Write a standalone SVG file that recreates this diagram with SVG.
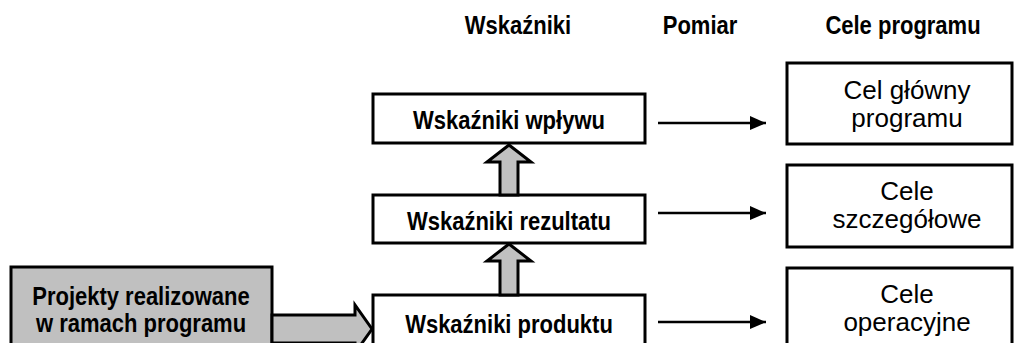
<svg xmlns="http://www.w3.org/2000/svg" width="1015" height="343" viewBox="0 0 1015 343">
  <defs>
    <style>
      .box { fill: #ffffff; stroke: #000000; stroke-width: 3; }
      .gbox { fill: #c0c0c0; stroke: #000000; stroke-width: 3; }
      .fat { fill: #c0c0c0; stroke: #000000; stroke-width: 3; stroke-linejoin: miter; }
      .thin { stroke: #000000; stroke-width: 2.7; fill: none; }
      .b { font-family: "Liberation Sans", Arial, sans-serif; font-weight: bold; font-size: 22px; fill: #000; text-anchor: middle; }
      .r { font-family: "Liberation Sans", Arial, sans-serif; font-size: 26px; fill: #000; text-anchor: middle; }
    </style>
    <marker id="ah" viewBox="0 0 16 14" refX="16" refY="7" markerWidth="16" markerHeight="14" markerUnits="userSpaceOnUse" orient="auto">
      <path d="M0,0 L16,7 L0,14 Z" fill="#000"/>
    </marker>
  </defs>

  <g id="headers">
    <text class="b" x="0" y="0" transform="translate(518,34) scale(1,1.16)">Wskaźniki</text>
    <text class="b" x="0" y="0" transform="translate(700,34) scale(1,1.16)">Pomiar</text>
    <text class="b" x="0" y="0" transform="translate(903,34) scale(1,1.16)">Cele programu</text>
  </g>

  <g id="projekty">
    <rect class="gbox" x="11" y="267" width="261" height="90"/>
    <text class="b" x="0" y="0" transform="translate(141,305) scale(1,1.16)">Projekty realizowane</text>
    <text class="b" x="0" y="0" transform="translate(141,332) scale(1,1.16)">w ramach programu</text>
  </g>

  <g id="wplyw">
    <rect class="box" x="373" y="94" width="272" height="49"/>
    <text class="b" x="0" y="0" transform="translate(509,129) scale(1,1.16)">Wskaźniki wpływu</text>
  </g>

  <g id="rezultat">
    <rect class="box" x="373" y="195" width="272" height="48"/>
    <text class="b" x="0" y="0" transform="translate(509,230) scale(1,1.16)">Wskaźniki rezultatu</text>
  </g>

  <g id="produkt">
    <rect class="box" x="373" y="295" width="272" height="60"/>
    <text class="b" x="0" y="0" transform="translate(509,333) scale(1,1.16)">Wskaźniki produktu</text>
  </g>

  <g id="cel-glowny">
    <rect class="box" x="787" y="63" width="225" height="81"/>
    <text class="r" x="907" y="99">Cel główny</text>
    <text class="r" x="907" y="127">programu</text>
  </g>

  <g id="cele-szczegolowe">
    <rect class="box" x="787" y="165" width="225" height="82"/>
    <text class="r" x="907" y="200">Cele</text>
    <text class="r" x="907" y="228">szczegółowe</text>
  </g>

  <g id="cele-operacyjne">
    <rect class="box" x="787" y="268" width="225" height="90"/>
    <text class="r" x="907" y="303">Cele</text>
    <text class="r" x="907" y="331">operacyjne</text>
  </g>

  <g id="connectors">
    <path class="fat" d="M272,315 L355,315 L355,305 L372,329 L355,353 L355,343 L272,343 Z"/>
    <path class="fat" d="M500,195 L500,162 L487,162 L509,145 L531,162 L518,162 L518,195 Z"/>
    <path class="fat" d="M500,295 L500,261 L487,261 L509,244 L531,261 L518,261 L518,295 Z"/>
    <line class="thin" x1="658" y1="123" x2="766" y2="123" marker-end="url(#ah)"/>
    <line class="thin" x1="658" y1="213" x2="766" y2="213" marker-end="url(#ah)"/>
    <line class="thin" x1="658" y1="322" x2="766" y2="322" marker-end="url(#ah)"/>
  </g>
</svg>
